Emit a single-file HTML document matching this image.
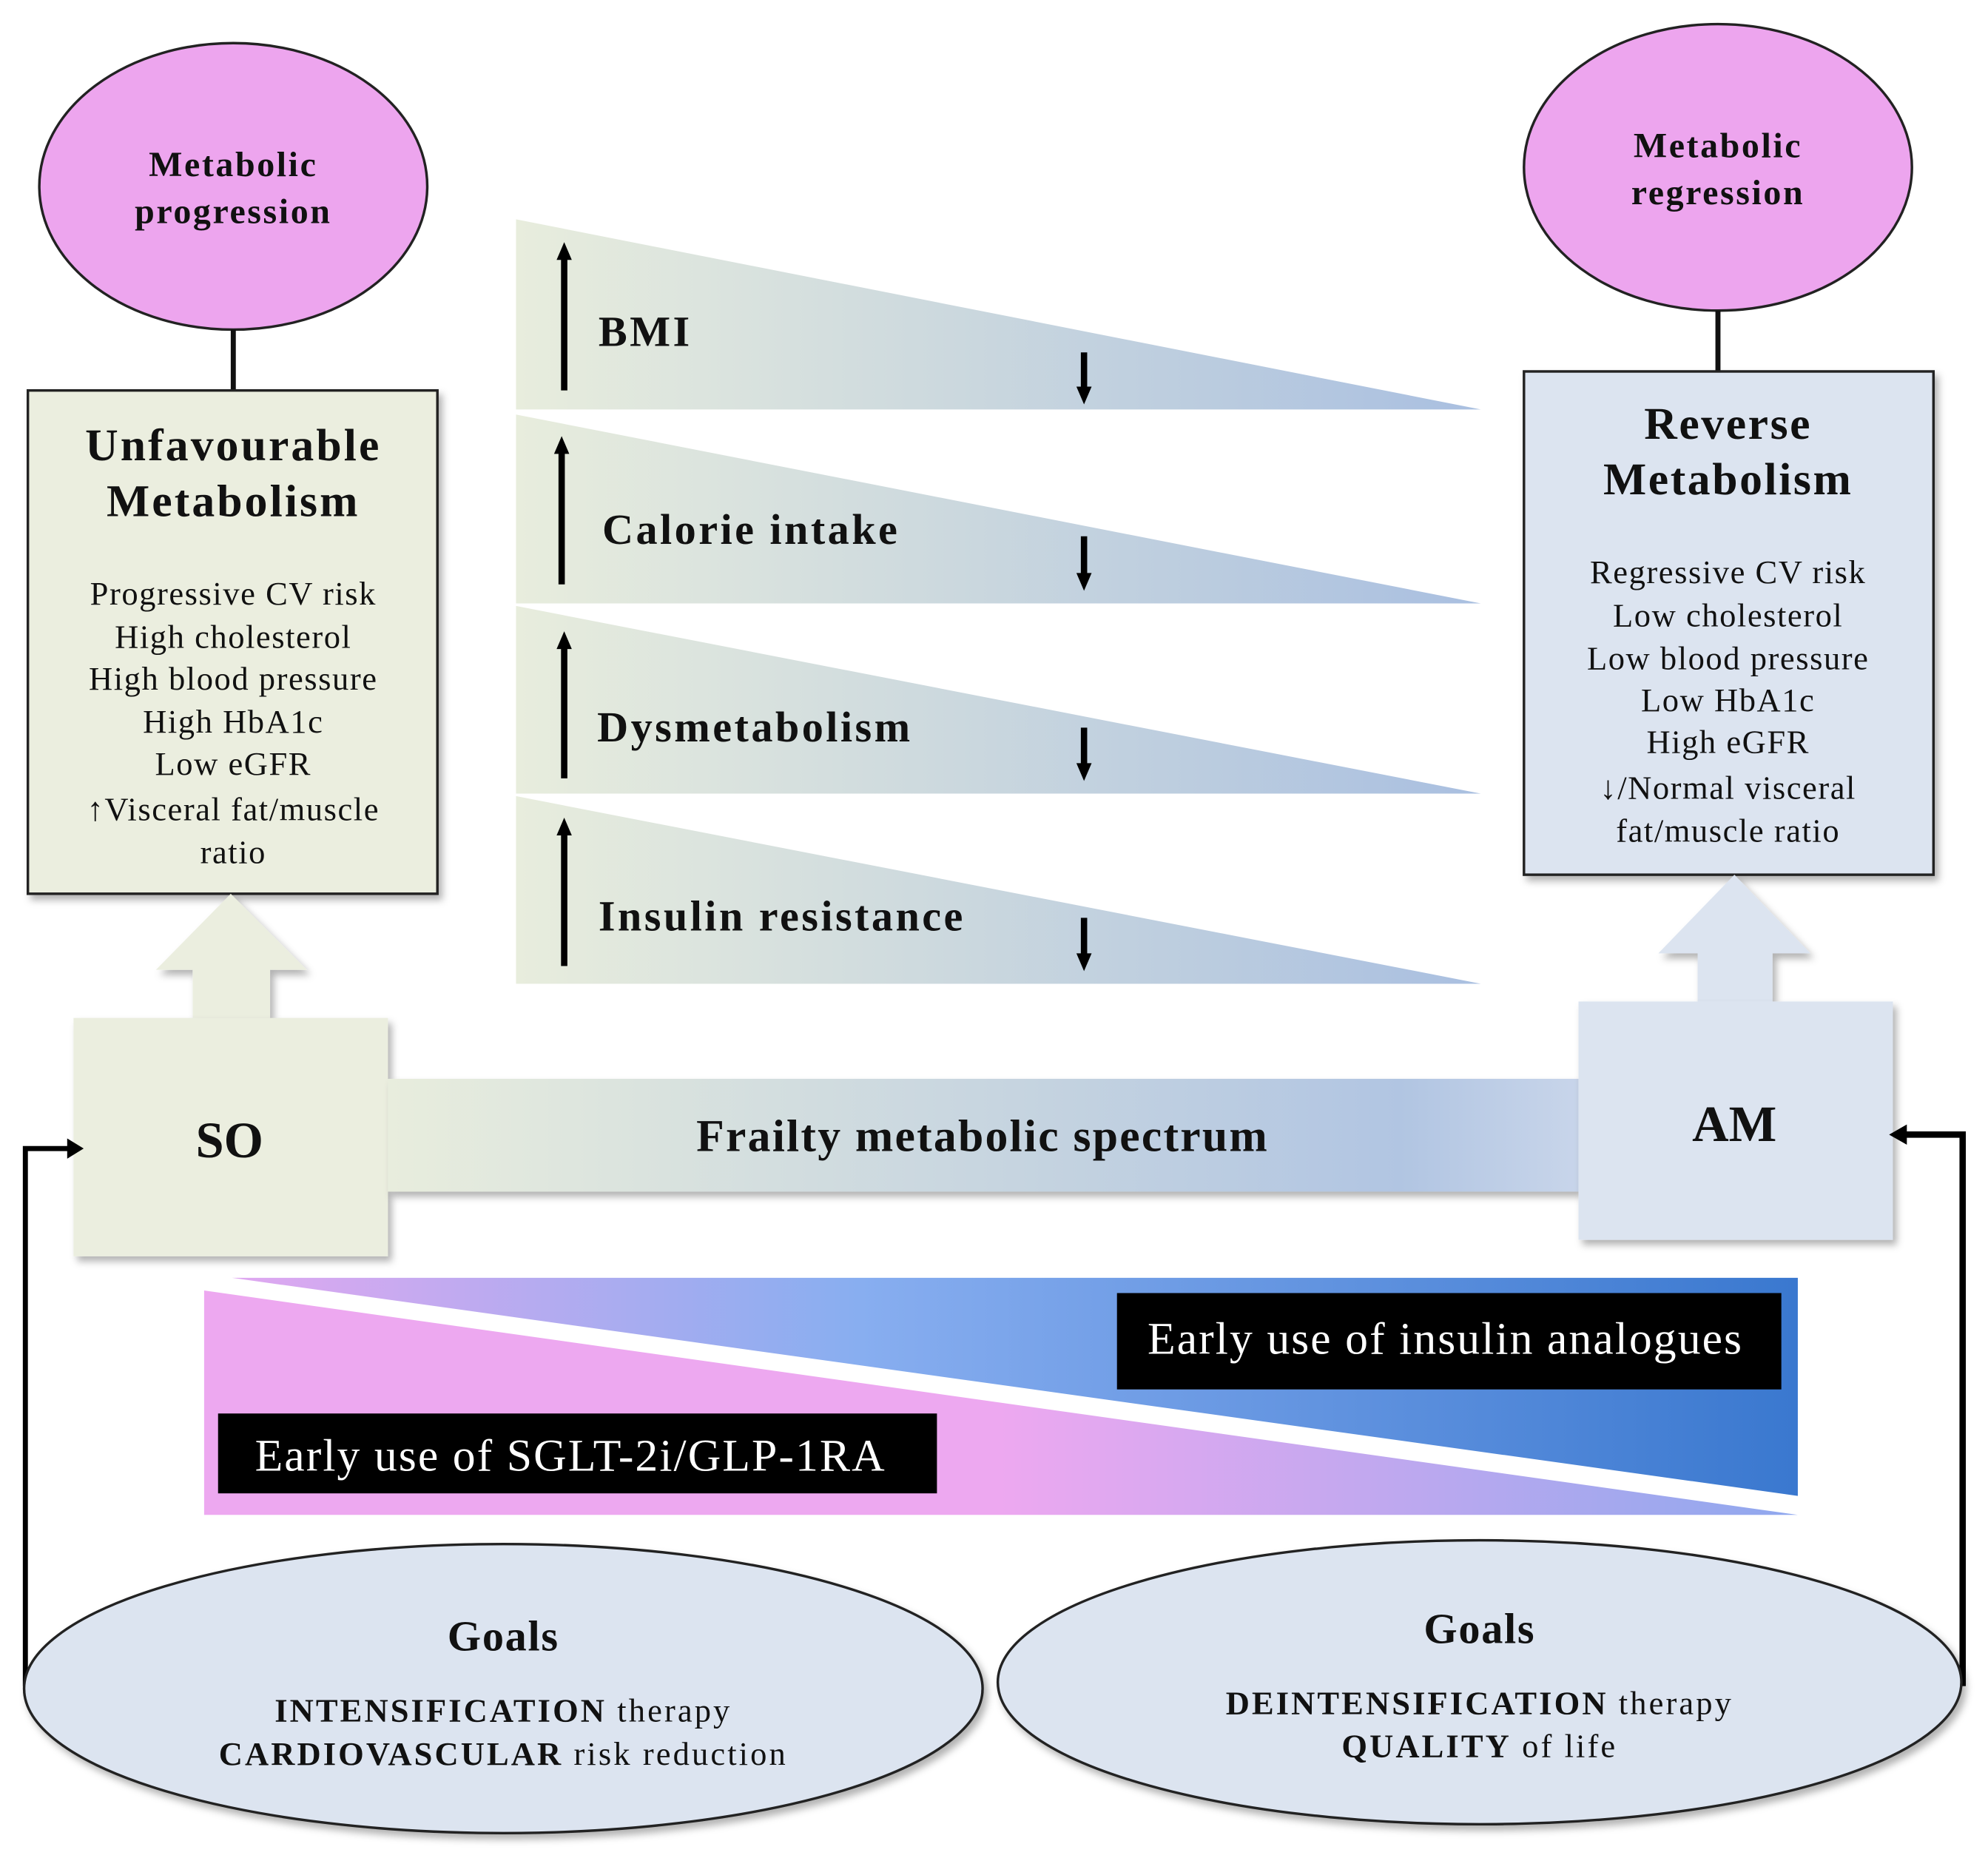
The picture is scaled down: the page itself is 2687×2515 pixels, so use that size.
<!DOCTYPE html>
<html><head><meta charset="utf-8"><style>
html,body{margin:0;padding:0;background:#fff}
svg{display:block}
text{font-family:"Liberation Serif",serif;fill:#111}
.b{font-weight:bold}
</style></head><body>
<svg width="2687" height="2515" viewBox="0 0 1568 1468" preserveAspectRatio="none" xmlns="http://www.w3.org/2000/svg">
<defs>
<linearGradient id="wg" x1="0" x2="1" y1="0" y2="0"><stop offset="0" stop-color="#e8eddd"/><stop offset="1" stop-color="#a9bfe0"/></linearGradient>
<linearGradient id="sg" x1="0" x2="1"><stop offset="0" stop-color="#e8eddd"/><stop offset="0.85" stop-color="#b1c5e2"/><stop offset="1" stop-color="#c8d5ea"/></linearGradient>
<linearGradient id="pg" x1="0" x2="1"><stop offset="0" stop-color="#eda8f0"/><stop offset="0.5" stop-color="#eda8f0"/><stop offset="1" stop-color="#8fa8ee"/></linearGradient>
<linearGradient id="bg" x1="0" x2="1"><stop offset="0" stop-color="#e0a8f0"/><stop offset="0.4" stop-color="#88aef0"/><stop offset="1" stop-color="#3a78cf"/></linearGradient>
<filter id="sh" x="-10%" y="-10%" width="130%" height="130%"><feDropShadow dx="3" dy="4" stdDeviation="3" flood-color="#000" flood-opacity="0.3"/></filter>
</defs>

<ellipse cx="184" cy="147" rx="153" ry="113" fill="#eda5ee" stroke="#222" stroke-width="2"/>
<text class="b" x="184" y="139" font-size="28" letter-spacing="1.5" text-anchor="middle">Metabolic</text>
<text class="b" x="184" y="176" font-size="28" letter-spacing="1.5" text-anchor="middle">progression</text>
<line x1="184" y1="260" x2="184" y2="308" stroke="#111" stroke-width="4"/>

<ellipse cx="1355" cy="132" rx="153" ry="113" fill="#eda5ee" stroke="#222" stroke-width="2"/>
<text class="b" x="1355" y="124" font-size="28" letter-spacing="1.5" text-anchor="middle">Metabolic</text>
<text class="b" x="1355" y="161" font-size="28" letter-spacing="1.5" text-anchor="middle">regression</text>
<line x1="1355" y1="245" x2="1355" y2="293" stroke="#111" stroke-width="4"/>

<rect x="22" y="308" width="323" height="397" fill="#ebeedf" stroke="#222" stroke-width="2" filter="url(#sh)"/>
<text class="b" x="184" y="363" font-size="36" letter-spacing="1.8" text-anchor="middle">Unfavourable</text>
<text class="b" x="184" y="407" font-size="36" letter-spacing="1.8" text-anchor="middle">Metabolism</text>
<g font-size="26" letter-spacing="0.9" text-anchor="middle">
<text x="184" y="477">Progressive CV risk</text>
<text x="184" y="511">High cholesterol</text>
<text x="184" y="544">High blood pressure</text>
<text x="184" y="578">High HbA1c</text>
<text x="184" y="611">Low eGFR</text>
<text x="184" y="647">↑Visceral fat/muscle</text>
<text x="184" y="681">ratio</text>
</g>

<rect x="1202" y="293" width="323" height="397" fill="#dce4f0" stroke="#222" stroke-width="2" filter="url(#sh)"/>
<text class="b" x="1363" y="346" font-size="36" letter-spacing="1.5" text-anchor="middle">Reverse</text>
<text class="b" x="1363" y="390" font-size="36" letter-spacing="1.5" text-anchor="middle">Metabolism</text>
<g font-size="26" letter-spacing="0.9" text-anchor="middle">
<text x="1363" y="460">Regressive CV risk</text>
<text x="1363" y="494">Low cholesterol</text>
<text x="1363" y="528">Low blood pressure</text>
<text x="1363" y="561">Low HbA1c</text>
<text x="1363" y="594">High eGFR</text>
<text x="1363" y="630">↓/Normal visceral</text>
<text x="1363" y="664">fat/muscle ratio</text>
</g>

<polygon points="407,173 1168,323 407,323" fill="url(#wg)"/>
<polygon points="407,327 1168,476 407,476" fill="url(#wg)"/>
<polygon points="407,478 1168,626 407,626" fill="url(#wg)"/>
<polygon points="407,628 1168,776 407,776" fill="url(#wg)"/>
<g stroke="#000" stroke-width="5">
<line x1="445" y1="308" x2="445" y2="203"/>
<line x1="443" y1="461" x2="443" y2="356"/>
<line x1="445" y1="614" x2="445" y2="510"/>
<line x1="445" y1="762" x2="445" y2="657"/>
<line x1="855" y1="278" x2="855" y2="308"/>
<line x1="855" y1="423" x2="855" y2="455"/>
<line x1="855" y1="574" x2="855" y2="605"/>
<line x1="855" y1="724" x2="855" y2="755"/>
</g>
<g fill="#000">
<polygon points="439,205 451,205 445,191"/>
<polygon points="437,358 449,358 443,344"/>
<polygon points="439,512 451,512 445,498"/>
<polygon points="439,659 451,659 445,645"/>
<polygon points="849,305 861,305 855,319"/>
<polygon points="849,452 861,452 855,466"/>
<polygon points="849,602 861,602 855,616"/>
<polygon points="849,752 861,752 855,766"/>
</g>
<g font-size="34" font-weight="bold" letter-spacing="2">
<text x="472" y="273">BMI</text>
<text x="475" y="429">Calorie intake</text>
<text x="471" y="585">Dysmetabolism</text>
<text x="472" y="734">Insulin resistance</text>
</g>

<polygon points="182,705 242,765 213,765 213,803 152,803 152,765 123,765" fill="#ebeedf" filter="url(#sh)"/>
<rect x="58" y="803" width="248" height="188" fill="#ebeedf" filter="url(#sh)"/>
<rect x="306" y="851" width="939" height="89" fill="url(#sg)" filter="url(#sh)"/>
<polygon points="1368,690 1428,752 1398,752 1398,790 1339,790 1339,752 1308,752" fill="#dce4f0" filter="url(#sh)"/>
<rect x="1245" y="790" width="248" height="188" fill="#dce4f0" filter="url(#sh)"/>
<text x="181" y="913" font-size="40" font-weight="bold" text-anchor="middle">SO</text>
<text x="1368" y="900" font-size="40" font-weight="bold" text-anchor="middle">AM</text>
<text x="775" y="908" font-size="36" font-weight="bold" letter-spacing="1.3" text-anchor="middle">Frailty metabolic spectrum</text>

<polyline points="20,1330 20,906 55,906" fill="none" stroke="#000" stroke-width="4"/>
<polygon points="53,898 66,906 53,914" fill="#000"/>
<polyline points="1548,1330 1548,895 1502,895" fill="none" stroke="#000" stroke-width="5"/>
<polygon points="1504,887 1490,895 1504,903" fill="#000"/>

<polygon points="161,1018 1418,1195 161,1195" fill="url(#pg)"/>
<polygon points="183,1008 1418,1008 1418,1180" fill="url(#bg)"/>
<rect x="881" y="1020" width="524" height="76" fill="#000"/>
<text x="1140" y="1068" font-size="36" letter-spacing="1.2" text-anchor="middle" style="fill:#fff">Early use of insulin analogues</text>
<rect x="172" y="1115" width="567" height="63" fill="#000"/>
<text x="450" y="1160" font-size="36" letter-spacing="1.2" text-anchor="middle" style="fill:#fff">Early use of SGLT-2i/GLP-1RA</text>

<ellipse cx="397" cy="1332" rx="378" ry="114" fill="#dce4f0" stroke="#222" stroke-width="2" filter="url(#sh)"/>
<text x="397" y="1302" font-size="34" font-weight="bold" letter-spacing="1" text-anchor="middle">Goals</text>
<text x="397" y="1358" font-size="26" letter-spacing="1.8" text-anchor="middle"><tspan font-weight="bold">INTENSIFICATION</tspan> therapy</text>
<text x="397" y="1392" font-size="26" letter-spacing="1.8" text-anchor="middle"><tspan font-weight="bold">CARDIOVASCULAR</tspan> risk reduction</text>
<ellipse cx="1167" cy="1327" rx="380" ry="112" fill="#dce4f0" stroke="#222" stroke-width="2" filter="url(#sh)"/>
<text x="1167" y="1296" font-size="34" font-weight="bold" letter-spacing="1" text-anchor="middle">Goals</text>
<text x="1167" y="1352" font-size="26" letter-spacing="1.8" text-anchor="middle"><tspan font-weight="bold">DEINTENSIFICATION</tspan> therapy</text>
<text x="1167" y="1386" font-size="26" letter-spacing="1.8" text-anchor="middle"><tspan font-weight="bold">QUALITY</tspan> of life</text>
</svg>
</body></html>
